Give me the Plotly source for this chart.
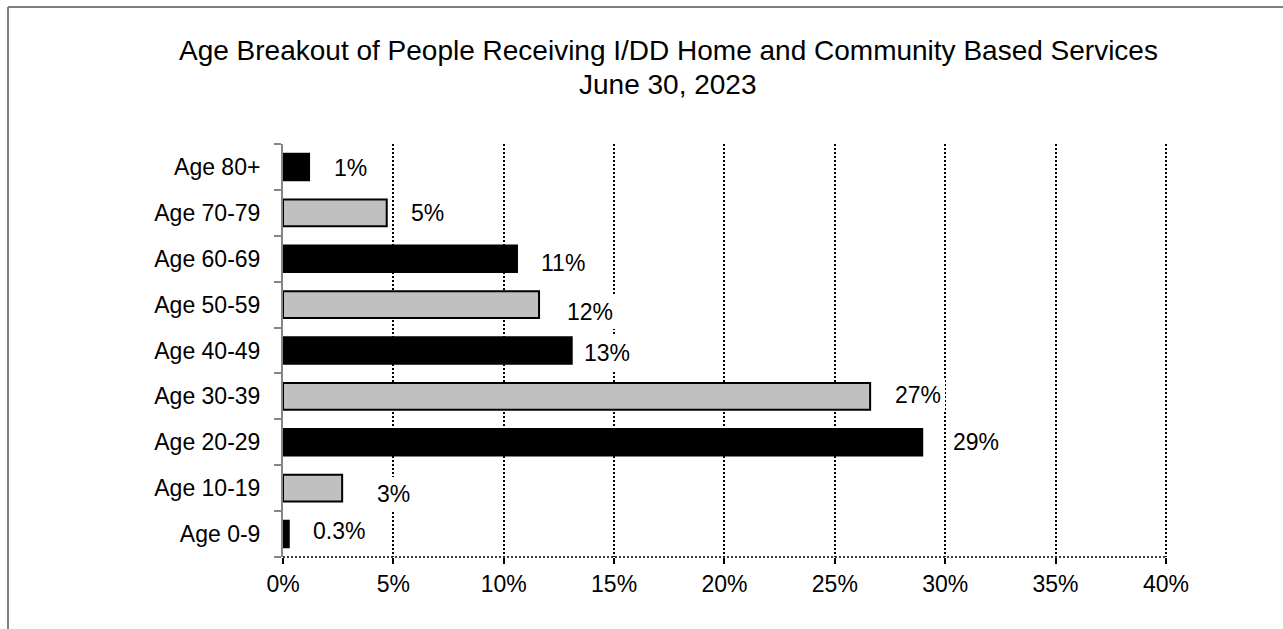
import plotly.graph_objects as go

# Age groups, bottom to top, and the share of people in each group (percent)
age_groups = ["Age 0-9", "Age 10-19", "Age 20-29", "Age 30-39", "Age 40-49",
              "Age 50-59", "Age 60-69", "Age 70-79", "Age 80+"]
share_pct = [0.26, 2.68, 28.96, 26.6, 13.08, 11.6, 10.6, 4.7, 1.18]
x_ticks = [0, 5, 10, 15, 20, 25, 30, 35, 40]
title_lines = ["Age Breakout of People Receiving I/DD Home and Community Based Services",
               "June 30, 2023"]

# Alternating fills for the bars
bar_fills = ["#000000", "#C0C0C0"] * 5
bar_fills = bar_fills[:len(age_groups)]

# Per-label nudges (pixels): horizontal gap after the bar end and downward offset
label_gap = [23, 34, 30, 24, 11, 27, 23, 23, 24]
label_drop = [-3, 6, 0, -1, 2, 7, 4, 0, 1]

FONT = "Liberation Sans, Arial, sans-serif"


def pct_label(v):
    return f"{v:.1f}%" if v < 1 else f"{round(v):.0f}%"


W, H = 1283, 629
ML, MR, MT, MB = 283, 116, 144, 72
pw, ph = W - ML - MR, H - MT - MB


def px_x(p):
    return (p - ML) / pw


def px_y(p):
    return (H - MB - p) / ph


fig = go.Figure()
fig.add_trace(go.Bar(
    x=share_pct,
    y=age_groups,
    orientation="h",
    marker=dict(color=bar_fills, line=dict(color="#000000", width=2)),
    hoverinfo="skip",
))

PAD = 4
for v, cat, gap, drop in zip(share_pct, age_groups, label_gap, label_drop):
    fig.add_annotation(
        x=v, y=cat, xref="x", yref="y",
        text=pct_label(v),
        showarrow=False,
        xanchor="left", yanchor="middle",
        xshift=gap + 1 - PAD, yshift=-drop,
        bgcolor="white", borderpad=PAD, borderwidth=0,
        font=dict(family=FONT, size=23, color="#000000"),
    )

# Two-line chart title
for line, ypx in zip(title_lines, [50, 84]):
    fig.add_annotation(
        x=px_x(668), y=px_y(ypx), xref="paper", yref="paper",
        text=line, showarrow=False,
        xanchor="center", yanchor="middle",
        font=dict(family=FONT, size=28, color="#000000"),
    )

shapes = [
    # dotted baseline along the value axis
    dict(type="line", xref="paper", yref="paper", x0=0, x1=1, y0=0, y1=0,
         line=dict(color="#000000", width=1.5, dash="2px,2px"), layer="above"),
    # outer frame
    dict(type="line", xref="paper", yref="paper",
         x0=px_x(8), x1=px_x(W + 20), y0=px_y(7), y1=px_y(7),
         line=dict(color="#808080", width=2)),
    dict(type="line", xref="paper", yref="paper",
         x0=px_x(8), x1=px_x(8), y0=px_y(7), y1=px_y(H + 20),
         line=dict(color="#808080", width=2)),
]

fig.update_layout(
    width=W, height=H,
    margin=dict(l=ML, r=MR, t=MT, b=MB, pad=0),
    paper_bgcolor="white", plot_bgcolor="white",
    showlegend=False,
    bargap=0.42,
    font=dict(family=FONT, size=23, color="#000000"),
    xaxis=dict(
        range=[0, 40.05], tickvals=x_ticks, ticktext=[f"{t}%" for t in x_ticks],
        showgrid=True, gridcolor="#000000", gridwidth=1.5, griddash="2px,2px",
        zeroline=False, showline=False,
        ticks="outside", ticklen=6, tickwidth=1.5, tickcolor="#000000",
        tickfont=dict(family=FONT, size=23, color="#000000"),
        fixedrange=True,
    ),
    yaxis=dict(
        type="category", categoryorder="array", categoryarray=age_groups,
        range=[-0.5, len(age_groups) - 0.5],
        showgrid=False, zeroline=False,
        showline=True, linecolor="#868686", linewidth=2,
        ticks="outside", tickson="boundaries", ticklen=7, tickwidth=2,
        tickcolor="#868686", ticklabelstandoff=16,
        tickfont=dict(family=FONT, size=23, color="#000000"),
        fixedrange=True,
    ),
    shapes=shapes,
)

fig.write_html("out.html", config={"displayModeBar": False})
